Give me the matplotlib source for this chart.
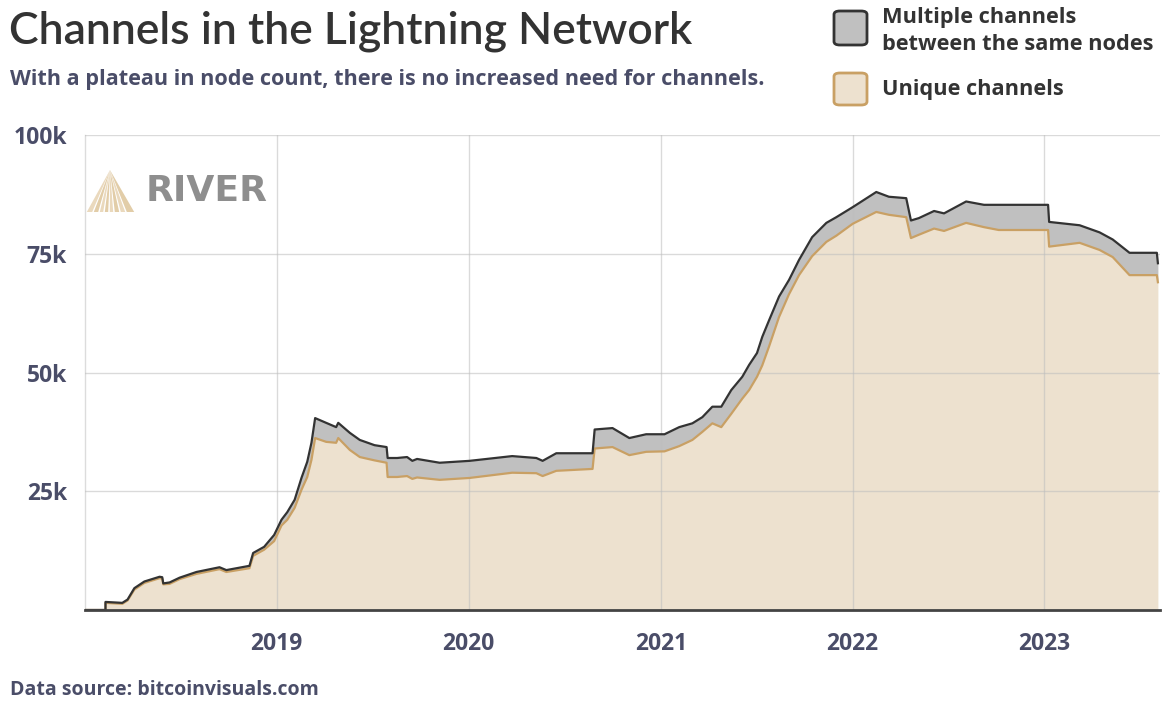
import matplotlib
matplotlib.use("Agg")
import matplotlib.pyplot as plt
from matplotlib.patches import FancyBboxPatch, Polygon
import pandas as pd

# ---------------- data ----------------
dates = ["2018-01-01", "2018-02-09", "2018-02-09", "2018-03-13", "2018-03-23", "2018-04-05",
         "2018-04-24", "2018-05-23", "2018-05-28", "2018-05-30", "2018-06-11", "2018-06-30",
         "2018-08-01", "2018-09-14", "2018-09-27", "2018-11-10", "2018-11-17", "2018-12-08",
         "2018-12-27", "2019-01-10", "2019-01-21", "2019-02-04", "2019-02-17", "2019-02-28",
         "2019-03-08", "2019-03-15", "2019-04-05", "2019-04-24", "2019-04-28", "2019-05-20",
         "2019-06-08", "2019-07-06", "2019-07-29", "2019-07-31", "2019-08-18", "2019-09-06",
         "2019-09-16", "2019-09-25", "2019-11-07", "2020-01-03", "2020-03-24", "2020-05-09",
         "2020-05-21", "2020-06-16", "2020-08-24", "2020-08-28", "2020-10-01", "2020-11-02",
         "2020-12-04", "2021-01-08", "2021-02-05", "2021-03-02", "2021-03-21", "2021-04-09",
         "2021-04-26", "2021-05-15", "2021-06-05", "2021-06-18", "2021-07-03", "2021-07-13",
         "2021-07-26", "2021-08-14", "2021-09-02", "2021-09-21", "2021-10-16", "2021-11-12",
         "2021-12-01", "2022-01-01", "2022-02-15", "2022-03-11", "2022-04-13", "2022-04-22",
         "2022-05-07", "2022-06-05", "2022-06-24", "2022-08-05", "2022-09-08", "2022-10-06",
         "2023-01-08", "2023-01-10", "2023-03-09", "2023-04-16", "2023-05-11", "2023-06-12",
         "2023-08-03", "2023-08-05"]

total_channels = [0.0, 0.0, 1.7, 1.5, 2.2, 4.6,
                  6.0, 7.0, 6.9, 5.6, 5.8, 6.8,
                  8.0, 9.0, 8.4, 9.3, 12.0, 13.3,
                  15.8, 19.0, 20.6, 23.2, 27.8, 31.2,
                  35.2, 40.4, 39.4, 38.5, 39.4, 37.3,
                  35.8, 34.7, 34.3, 32.0, 32.0, 32.2,
                  31.4, 31.8, 31.0, 31.4, 32.4, 32.0,
                  31.4, 33.0, 33.0, 38.0, 38.3, 36.2,
                  37.0, 37.0, 38.5, 39.3, 40.6, 42.8,
                  42.8, 46.3, 49.1, 51.6, 54.1, 57.5,
                  61.0, 66.0, 69.5, 73.7, 78.5, 81.5,
                  82.7, 84.8, 88.0, 87.0, 86.7, 82.0,
                  82.5, 84.0, 83.5, 86.0, 85.3, 85.3,
                  85.3, 81.7, 81.0, 79.5, 78.0, 75.2,
                  75.2, 73.0]

unique_channels = [0.0, 0.0, 1.5, 1.3, 2.0, 4.3,
                   5.7, 6.7, 6.6, 5.4, 5.5, 6.5,
                   7.6, 8.6, 8.0, 8.8, 11.4, 12.7,
                   14.5, 17.8, 19.0, 21.5, 25.3, 28.0,
                   31.6, 36.2, 35.4, 35.2, 36.2, 33.7,
                   32.2, 31.5, 31.0, 28.0, 28.0, 28.2,
                   27.6, 27.9, 27.4, 27.8, 28.9, 28.8,
                   28.2, 29.3, 29.7, 34.0, 34.3, 32.6,
                   33.3, 33.4, 34.5, 35.8, 37.5, 39.3,
                   38.5, 41.3, 44.5, 46.3, 49.1, 51.5,
                   55.5, 61.7, 66.5, 70.5, 74.5, 77.5,
                   78.8, 81.3, 83.8, 83.2, 82.7, 78.3,
                   79.0, 80.3, 79.8, 81.5, 80.6, 80.0,
                   80.0, 76.5, 77.3, 75.8, 74.3, 70.5,
                   70.5, 69.0]

y_ticks = [25, 50, 75, 100]
y_tick_labels = ["25k", "50k", "75k", "100k"]
x_tick_years = ["2019", "2020", "2021", "2022", "2023"]

# ---------------- style ----------------
FONT = "Lato"
FONT2 = "Open Sans"
TEXT_DARK = "#333333"
TEXT_SLATE = "#4a4d68"
UNIQUE_FILL = "#ede1cf"
UNIQUE_LINE = "#c9a064"
MULTI_FILL = "#c0c0c0"
MULTI_LINE = "#333333"

W, H = 1163, 703
fig = plt.figure(figsize=(W / 100, H / 100), dpi=100)
fig.patch.set_facecolor("white")

def fx(px):
    return px / W

def fy(py):
    return 1 - py / H

ax = fig.add_axes([fx(85), fy(610), fx(1160) - fx(85), fy(135) - fy(610)])

x = pd.to_datetime(dates)

ax.fill_between(x, unique_channels, total_channels, color=MULTI_FILL, lw=0, zorder=2)
ax.fill_between(x, 0, unique_channels, color=UNIQUE_FILL, lw=0, zorder=2)
ax.plot(x, unique_channels, color=UNIQUE_LINE, lw=1.6, zorder=4)
ax.plot(x, total_channels, color=MULTI_LINE, lw=1.6, zorder=5)

ax.set_xlim(pd.Timestamp("2018-01-01"), pd.Timestamp("2023-08-09"))
ax.set_ylim(0, 100)

ax.set_yticks(y_ticks)
ax.set_yticklabels(y_tick_labels)
ax.set_xticks(pd.to_datetime([y + "-01-01" for y in x_tick_years]))
ax.set_xticklabels(x_tick_years)

ax.tick_params(axis="both", length=0, labelsize=16.5, labelcolor=TEXT_SLATE)
ax.tick_params(axis="y", pad=13)
ax.tick_params(axis="x", pad=16)
for lab in ax.get_xticklabels() + ax.get_yticklabels():
    lab.set_fontfamily(FONT2)
    lab.set_fontweight("bold")

ax.grid(True, color="#bdbdbd", alpha=0.55, lw=1.0, zorder=3)
ax.set_axisbelow(False)
for s in ["top", "right"]:
    ax.spines[s].set_visible(False)
ax.spines["left"].set_color("#dcdcdc")
ax.spines["left"].set_linewidth(1.0)
ax.spines["bottom"].set_color("#444444")
ax.spines["bottom"].set_linewidth(2.0)
ax.spines["bottom"].set_zorder(6)

# ---------------- titles ----------------
fig.text(fx(9), fy(31), "Channels in the Lightning Network", fontsize=32, fontfamily=FONT,
         fontweight="semibold", color=TEXT_DARK, va="center", ha="left")
fig.text(fx(10), fy(79), "With a plateau in node count, there is no increased need for channels.",
         fontsize=15.6, fontfamily=FONT2, fontweight="bold", color=TEXT_SLATE, va="center", ha="left")
fig.text(fx(10), fy(690), "Data source: bitcoinvisuals.com", fontsize=14.0, fontfamily=FONT2,
         fontweight="bold", color=TEXT_SLATE, va="center", ha="left")

# ---------------- legend ----------------
def legend_box(x0, y0, x1, y1, fc, ec):
    p = FancyBboxPatch((fx(x0), fy(y1)), fx(x1) - fx(x0), fy(y0) - fy(y1),
                       boxstyle="round,pad=0,rounding_size=0.005", transform=fig.transFigure,
                       fc=fc, ec=ec, lw=2.0)
    fig.patches.append(p)

legend_box(834, 11, 867, 45, MULTI_FILL, MULTI_LINE)
legend_box(834, 73, 867, 105, UNIQUE_FILL, UNIQUE_LINE)
fig.text(fx(882), fy(17), "Multiple channels", fontsize=15.7,
         fontfamily=FONT2, fontweight="bold", color=TEXT_DARK, va="center", ha="left")
fig.text(fx(882), fy(44), "between the same nodes", fontsize=15.7,
         fontfamily=FONT2, fontweight="bold", color=TEXT_DARK, va="center", ha="left")
fig.text(fx(882), fy(89), "Unique channels", fontsize=15.7, fontfamily=FONT2,
         fontweight="bold", color=TEXT_DARK, va="center", ha="left")

# ---------------- RIVER watermark ----------------
apex = (110, 170)
base_y = 212
edges = [86, 93, 99, 104, 109, 114, 120, 126, 135]
shades = ["#ead9bd", "#e2cda8", "#ead9bd", "#e2cda8", "#ead9bd", "#e2cda8", "#ead9bd", "#e2cda8"]
for i in range(len(edges) - 1):
    a, b = edges[i], edges[i + 1]
    gap = 0.8
    poly = Polygon([(fx(apex[0]), fy(apex[1])), (fx(a + gap), fy(base_y)), (fx(b - gap), fy(base_y))],
                   closed=True, transform=fig.transFigure, fc=shades[i], ec="none", zorder=10)
    fig.patches.append(poly)
fig.text(fx(146), fy(191), "RIVER", fontsize=26, fontfamily="DejaVu Sans", fontweight="bold",
         color="#8e8e8e", va="center", ha="left")

fig.savefig("out.png", dpi=100)
